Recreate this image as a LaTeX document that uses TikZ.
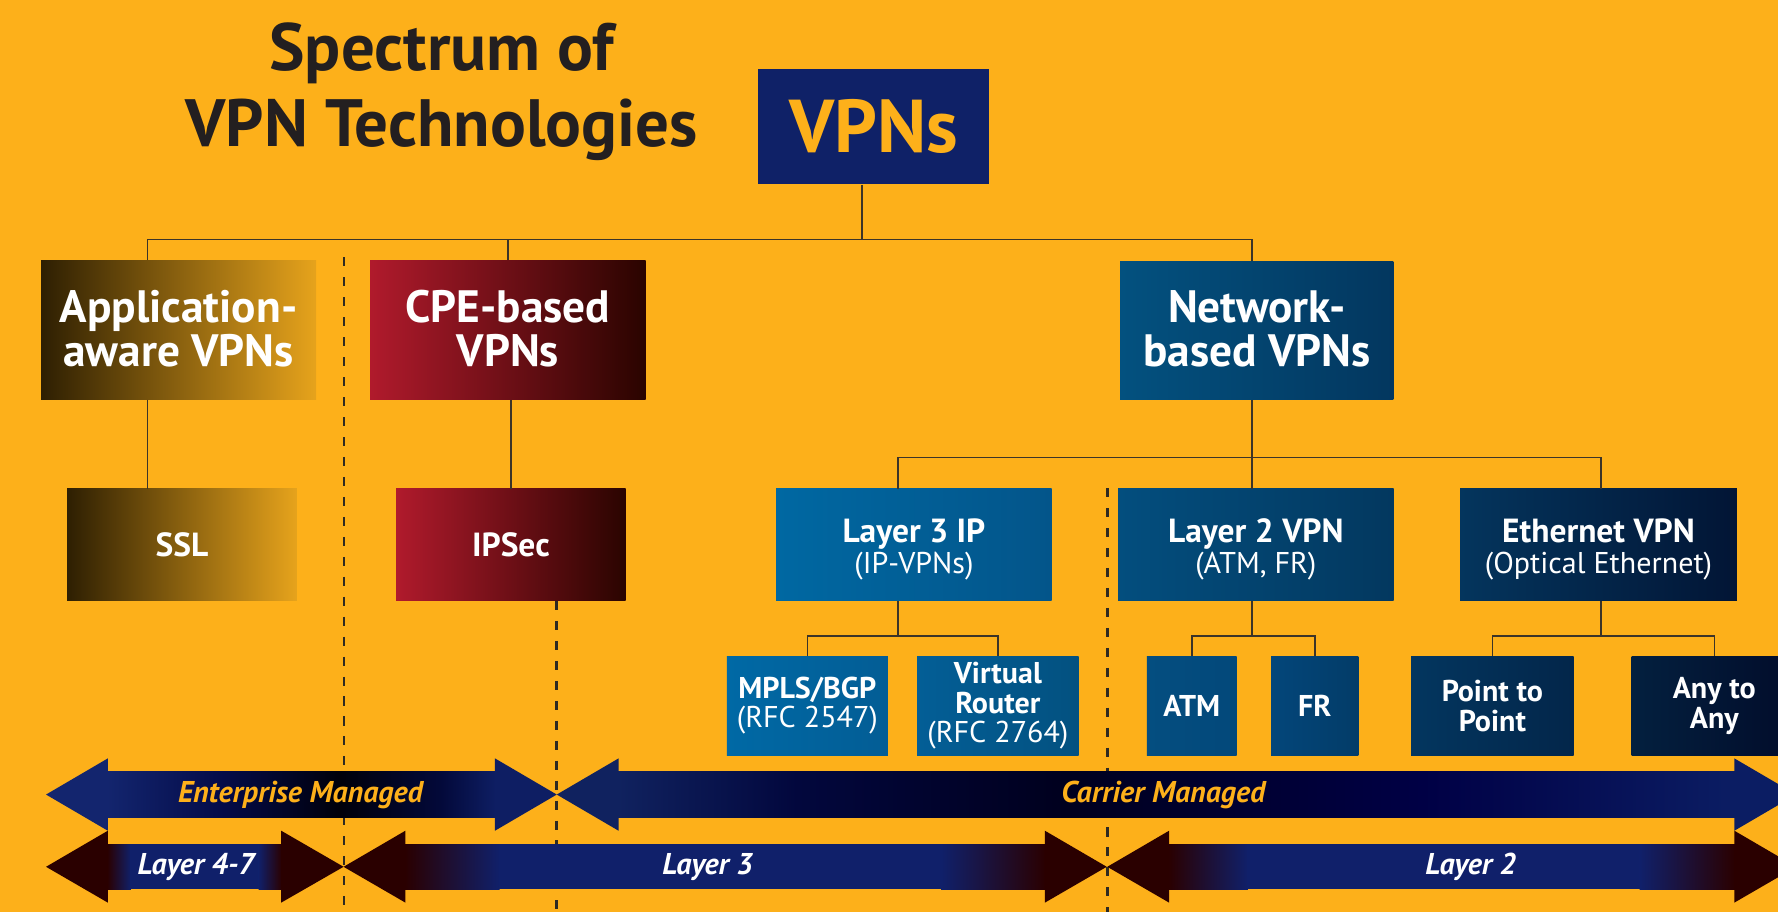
\documentclass[tikz,border=0pt]{standalone}
\usepackage{fontspec}
\setmainfont{PT Sans}
\usetikzlibrary{calc}
\definecolor{bgC}{HTML}{FDB01A}
\definecolor{titleC}{HTML}{231F20}
\definecolor{lineC}{HTML}{3C3428}
\definecolor{dashC}{HTML}{2E2A22}
\definecolor{navyA}{HTML}{0F2167}
\definecolor{goldL}{HTML}{2E1F02}
\definecolor{goldM}{HTML}{A8740C}
\definecolor{goldR}{HTML}{E6A31C}
\definecolor{redL}{HTML}{B01A2C}
\definecolor{redM}{HTML}{8A1020}
\definecolor{redR}{HTML}{2A0400}
\definecolor{netL}{HTML}{03517F}
\definecolor{netR}{HTML}{03375F}
\definecolor{lthreeL}{HTML}{0068A2}
\definecolor{lthreeR}{HTML}{03558A}
\definecolor{ltwoL}{HTML}{034E7E}
\definecolor{ltwoR}{HTML}{03385F}
\definecolor{ethL}{HTML}{04355D}
\definecolor{ethR}{HTML}{021535}
\definecolor{mplsL}{HTML}{0069A5}
\definecolor{mplsR}{HTML}{035D95}
\definecolor{vrL}{HTML}{035E96}
\definecolor{vrR}{HTML}{035180}
\definecolor{atmL}{HTML}{044E80}
\definecolor{atmR}{HTML}{03487A}
\definecolor{frL}{HTML}{03467A}
\definecolor{frR}{HTML}{033C68}
\definecolor{ptpL}{HTML}{03365F}
\definecolor{ptpR}{HTML}{03264A}
\definecolor{anyL}{HTML}{03203F}
\definecolor{anyR}{HTML}{020C2A}
\definecolor{maroonH}{HTML}{2A0000}
\definecolor{purpleT}{HTML}{3E0530}
\definecolor{navyL}{HTML}{10206A}
\definecolor{entL}{HTML}{13256E}
\definecolor{entB}{HTML}{040B48}
\definecolor{entK}{HTML}{00000A}
\definecolor{entD}{HTML}{03093A}
\definecolor{entR}{HTML}{0E1E63}
\definecolor{carL}{HTML}{10225F}
\definecolor{carB}{HTML}{02073D}
\definecolor{carK}{HTML}{00001E}
\definecolor{carD}{HTML}{000045}
\definecolor{carR}{HTML}{0B1D63}
\pgfdeclarehorizontalshading{entSh}{100bp}{color(0bp)=(entL); color(25bp)=(entL); color(40bp)=(entB); color(55bp)=(entK); color(68bp)=(entD); color(75bp)=(entR); color(100bp)=(entR)}
\pgfdeclarehorizontalshading{carSh}{100bp}{color(0bp)=(carL); color(25bp)=(carL); color(33bp)=(carB); color(45bp)=(carK); color(61bp)=(carD); color(75bp)=(carR); color(100bp)=(carR)}
\newcommand\fsTitle{\fontsize{59}{67}\selectfont\bfseries}
\newcommand\fsVPN{\fontsize{66}{70}\selectfont\bfseries}
\newcommand\fsRowB{\fontsize{40}{38.5}\selectfont\bfseries}
\newcommand\fsRowC{\fontsize{29.5}{28}\selectfont\bfseries}
\newcommand\fsSub{\fontsize{26.5}{28}\selectfont\mdseries}
\newcommand\fsRowD{\fontsize{26.5}{26.3}\selectfont\bfseries}
\newcommand\fsArrow{\fontsize{26.5}{28}\selectfont\bfseries\itshape}
\newcommand\tstrut{\rule{0pt}{28.7pt}}
\newcommand\dstrut{\rule[-3pt]{0pt}{0pt}}
\tikzset{
  box/.style={inner sep=0pt, text=white, align=center, anchor=center},
  conn/.style={draw=lineC, line width=1.3pt},
  sepline/.style={draw=dashC, line width=2.3pt, dash pattern=on 8pt off 9.6pt},
  albl/.style={inner sep=0pt, anchor=base, font=\fsArrow},
  goldbox/.style={left color=goldL, middle color=goldM, right color=goldR},
  redbox/.style={left color=redL, middle color=redM, right color=redR},
  rowC/.style={minimum width=243, minimum height=98.8, font=\fsRowC},
  rowD/.style={minimum height=87.5, font=\fsRowD}
}
\begin{document}
\begin{tikzpicture}[x=1pt,y=-1pt]
\useasboundingbox (0,0) rectangle (1568,804);
\clip (0,0) rectangle (1568,804);
\fill[bgC] (0,0) rectangle (1568,804);

% title
\node[inner sep=0pt, anchor=base, text=titleC, font=\fsTitle] (title1) at (389.5,62) {Spectrum of};
\node[inner sep=0pt, anchor=base, text=titleC, font=\fsTitle] (title2) at (389.5,129) {VPN Technologies};

% level 0
\node[box, minimum width=203.6, minimum height=101.6, fill=navyA, text=bgC, font=\fsVPN] (vpns) at (770.5,111.8) {VPNs};

% level 1
\node[box, goldbox, minimum width=242.5, minimum height=122.7, font=\fsRowB] (app) at (157.5,290.9) {Application-\\aware VPNs\dstrut};
\node[box, redbox, minimum width=242.9, minimum height=122.7, font=\fsRowB] (cpe) at (447.9,290.9) {CPE-based\\VPNs\dstrut};
\node[box, left color=netL, right color=netR, minimum width=241, minimum height=122, font=\fsRowB] (net) at (1108.3,291.2) {Network-\\based VPNs\dstrut};

% level 2
\node[box, goldbox, minimum width=202.5, minimum height=98.8, font=\fsRowC] (ssl) at (160.5,480.6) {SSL};
\node[box, redbox, minimum width=202.4, minimum height=98.8, font=\fsRowC] (ipsec) at (450.6,480.6) {IPSec};
\node[box, rowC, left color=lthreeL, right color=lthreeR] (l3) at (806,480.6) {\tstrut Layer 3 IP\\{\fsSub (IP-VPNs)}};
\node[box, rowC, left color=ltwoL, right color=ltwoR] (l2) at (1107.5,480.6) {\tstrut Layer 2 VPN\\{\fsSub (ATM, FR)}};
\node[box, rowC, minimum width=244, left color=ethL, right color=ethR] (eth) at (1409.7,480.6) {\tstrut Ethernet VPN\\{\fsSub (Optical Ethernet)}};

% level 3
\node[box, rowD, minimum width=142, left color=mplsL, right color=mplsR] (mpls) at (712,622.3) {MPLS/BGP\\{\fsSub (RFC 2547)}};
\node[box, rowD, minimum width=142.6, left color=vrL, right color=vrR] (vr) at (880,622.3) {Virtual\\Router\\{\fsSub (RFC 2764)}};
\node[box, rowD, minimum width=79, left color=atmL, right color=atmR] (atm) at (1051,622.3) {ATM};
\node[box, rowD, minimum width=77, left color=frL, right color=frR] (fr) at (1159.5,622.3) {FR};
\node[box, rowD, minimum width=143.4, left color=ptpL, right color=ptpR] (p2p) at (1316.1,622.3) {Point to\\Point};
\node[box, rowD, minimum width=145.6, left color=anyL, right color=anyR] (any) at (1511.8,622.3) {Any to\\Any};

% separators
\draw[sepline] (303.5,227) -- (303.5,810);
\draw[sepline] (491,530) -- (491,810);
\draw[sepline] (976.5,430.5) -- (976.5,810);

% connectors
\coordinate (t0) at (130,211);
\coordinate (t1) at (760,211);
\coordinate (t2) at (1104,211);
\draw[conn] (vpns.south -| t1) -- (t1);
\draw[conn] (app.north -| t0) -- (t0) -- (t2) -- (net.north -| t2);
\draw[conn] (cpe.north) -- (cpe.north |- t0);
\draw[conn] (app.south -| t0) -- (ssl.north -| t0);
\draw[conn] (cpe.south -| ipsec.north) -- (ipsec.north);
\coordinate (m0) at (792,403.6);
\coordinate (m2) at (1412,403.6);
\draw[conn] (net.south -| t2) -- (l2.north -| t2);
\draw[conn] (l3.north -| m0) -- (m0) -- (m2) -- (eth.north -| m2);
\coordinate (s1) at (792,561);
\coordinate (s2) at (1104,561);
\coordinate (s3) at (1412,561);
\draw[conn] (l3.south -| s1) -- (s1);
\draw[conn] (mpls.north) |- (s1) -| (vr.north);
\draw[conn] (l2.south -| s2) -- (s2);
\draw[conn] (atm.north) |- (s2) -| (fr.north);
\draw[conn] (eth.south -| s3) -- (s3);
\draw[conn] (p2p.north) |- (s3) -| (any.north);

% band arrows, row A
\fill[entL] (95.1,668.8) -- (40.6,700.7) -- (95.1,732.6) -- cycle;
\shade[shading=entSh] (94.6,680.8) rectangle (437,720.6);
\fill[entR] (436.5,668.8) -- (491,700.7) -- (436.5,732.6) -- cycle;
\fill[carL] (545.5,668.8) -- (491,700.7) -- (545.5,732.6) -- cycle;
\shade[shading=carSh] (545,680.8) rectangle (1530,720.6);
\fill[carR] (1529.5,668.8) -- (1584,700.7) -- (1529.5,732.6) -- cycle;

% band arrows, row B
\fill[maroonH] (95.1,732.6) -- (40.6,764.4) -- (95.1,796) -- cycle;
\shade[left color=maroonH, middle color=purpleT, right color=navyL] (94.6,744.6) rectangle (115.5,784.3);
\fill[navyL] (115,744.6) rectangle (228.5,784.3);
\shade[left color=navyL, middle color=purpleT, right color=maroonH] (228,744.6) rectangle (248.5,784.3);
\fill[maroonH] (248,732.6) -- (303,764.4) -- (248,796) -- cycle;

\fill[maroonH] (357.5,732.6) -- (303,764.4) -- (357.5,796) -- cycle;
\shade[left color=maroonH, middle color=purpleT, right color=navyL] (357,744.6) rectangle (440.5,784.3);
\fill[navyL] (440,744.6) rectangle (830.5,784.3);
\shade[left color=navyL, middle color=purpleT, right color=maroonH] (830,744.6) rectangle (922,784.3);
\fill[maroonH] (921.5,732.6) -- (976,764.4) -- (921.5,796) -- cycle;

\fill[maroonH] (1031,732.6) -- (976.5,764.4) -- (1031,796) -- cycle;
\shade[left color=maroonH, middle color=purpleT, right color=navyL] (1030.5,744.6) rectangle (1100.5,784.3);
\fill[navyL] (1100,744.6) rectangle (1446.5,784.3);
\shade[left color=navyL, middle color=purpleT, right color=maroonH] (1446,744.6) rectangle (1530,784.3);
\fill[maroonH] (1529.5,732.6) -- (1584,764.4) -- (1529.5,796) -- cycle;

% arrow labels
\node[albl, text=bgC] (entT) at (265,708) {Enterprise Managed};
\node[albl, text=bgC] (carT) at (1026,708) {Carrier Managed};
\node[albl, text=white] (l47T) at (173,771.6) {Layer 4-7};
\node[albl, text=white] (l3T) at (624,771.6) {Layer 3};
\node[albl, text=white] (l2T) at (1297,771.6) {Layer 2};
\end{tikzpicture}
\end{document}
